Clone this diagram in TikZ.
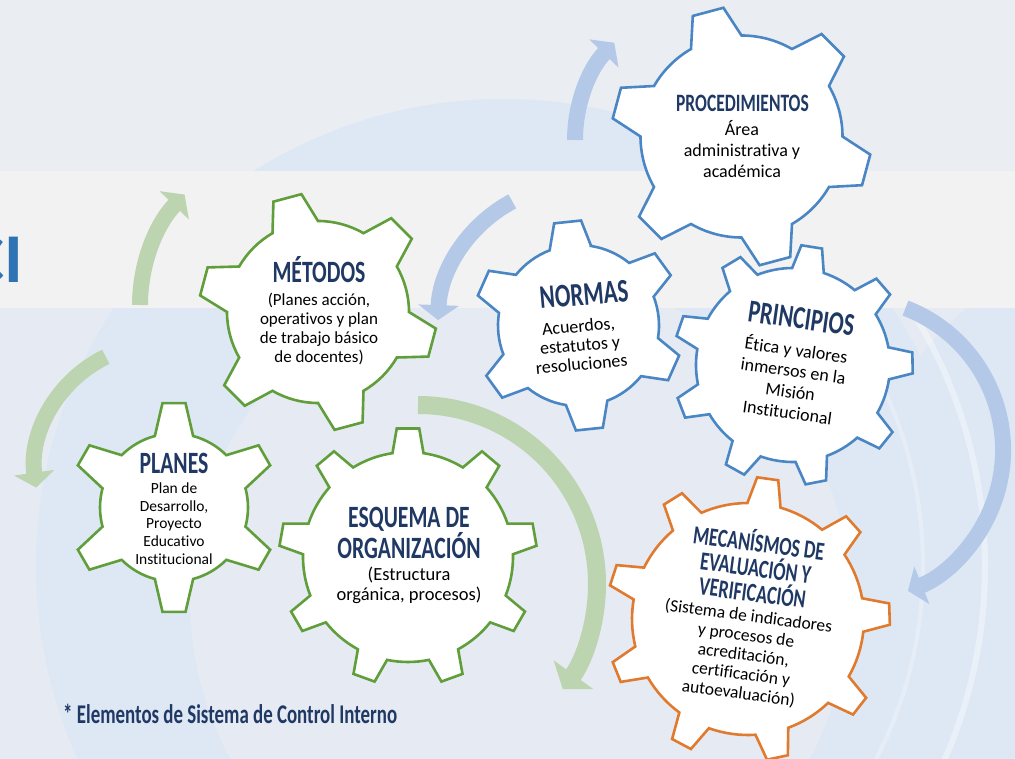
\documentclass[tikz,border=0pt]{standalone}
\usepackage{fontspec}
\setmainfont[Ligatures={NoCommon}]{Carlito}
\newfontfamily\headfont[FakeStretch=0.7,Ligatures={NoCommon}]{Carlito}
\usetikzlibrary{arrows.meta}

\definecolor{bgtop}{HTML}{EAEDF2}
\definecolor{bgbot}{HTML}{E6EAF2}
\definecolor{bgband}{HTML}{F2F2F2}
\definecolor{bgring}{HTML}{DEE8F4}
\definecolor{navyhead}{HTML}{1F3864}
\definecolor{gearGreen}{HTML}{5F9E3A}
\definecolor{gearBlue}{HTML}{4A86C4}
\definecolor{gearOrange}{HTML}{E07A2F}
\definecolor{arrGreen}{HTML}{BCD5B0}
\definecolor{arrBlue}{HTML}{B4C9E8}
\definecolor{ciBlue}{HTML}{2E74B5}
\definecolor{topNavy}{HTML}{1F3A68}

\tikzset{
 geargreen/.style={draw=gearGreen,fill=white,line width=2.6pt,line join=miter},
 gearblue/.style={draw=gearBlue,fill=white,line width=2.6pt,line join=miter},
 gearorange/.style={draw=gearOrange,fill=white,line width=2.6pt,line join=miter},
 cyclearrow/.style={line width=16pt,-{Triangle[width=40pt,length=15pt]}},
 bigcyclearrow/.style={line width=18pt,-{Triangle[width=48pt,length=18pt]}},
 garrow/.style={cyclearrow,draw=arrGreen},
 gbigarrow/.style={bigcyclearrow,draw=arrGreen},
 barrow/.style={cyclearrow,draw=arrBlue},
 headtext/.style={text=navyhead,inner sep=0pt,align=center},
 bodytext/.style={text=black,inner sep=0pt,align=center},
}

% cx, cy, teeth, Rin, Rout, rotation, tip half-angle, base half-angle, style
\newcommand\drawgear[9]{%
 \begin{scope}[shift={(#1,-#2)},rotate=#6]
  \draw[#9] ({-#8}:#4)
   \foreach \k in {1,...,#3}{
    -- ({360/#3*(\k-1)-#7}:#5) -- ({360/#3*(\k-1)+#7}:#5) -- ({360/#3*(\k-1)+#8}:#4)
    arc[start angle={360/#3*(\k-1)+#8}, end angle={360/#3*\k-#8}, radius=#4]
   } -- cycle;
 \end{scope}}

\begin{document}
\begin{tikzpicture}[x=1pt,y=1pt]
\useasboundingbox (0,0) rectangle (1015,-759);
% background
\fill[bgbot] (0,0) rectangle (1015,-759);
\fill[bgtop] (0,0) rectangle (1015,-171);
\fill[bgring] (1180,-560) circle[radius=330];
\fill[bgring] (503,-566) circle[radius=467];
\fill[bgbot] (520,-600) circle[radius=330];
\begin{scope}
 \clip (700,0) rectangle (1015,-759);
 \draw[white,opacity=0.35,line width=6pt] (503,-566) circle[radius=482];
 \draw[white,opacity=0.25,line width=4pt] (503,-566) circle[radius=420];
\end{scope}
\fill[bgband] (0,-171) rectangle (1015,-308);
% top-left swoosh
\fill[gray,opacity=0.12] (0,0) -- (230,0) -- (0,38) -- cycle;
\fill[gray,opacity=0.18] (0,0) -- (160,0) -- (0,26) -- cycle;
\fill[gray,opacity=0.25] (0,0) -- (110,0) -- (0,17) -- cycle;
\fill[topNavy] (0,0) -- (84,0) .. controls (50,5) .. (0,12) -- cycle;

% cycle arrows
\coordinate (a1s) at (140,-305);
\draw[garrow] (a1s) arc[start angle=180,end angle=136,radius=159];
\coordinate (a2s) at (105.8,-356.8);
\draw[garrow] (a2s) arc[start angle=116,end angle=188,radius=126];
\coordinate (a3s) at (418,-405);
\draw[gbigarrow] (a3s) arc[start angle=90,end angle=-36,radius=179];
\coordinate (a4s) at (575,-140);
\draw[barrow] (a4s) arc[start angle=180,end angle=136,radius=140];
\coordinate (a5s) at (512.3,-201.4);
\draw[barrow] (a5s) arc[start angle=118,end angle=178,radius=140];
\coordinate (a6s) at (905.5,-308.1);
\draw[barrow] (a6s) arc[start angle=69,end angle=-68,radius=152];

% gears
\drawgear{174}{507.5}{6}{74}{105}{90}{6.3}{15}{geargreen}
\drawgear{318}{312}{6}{91}{119}{105}{7}{15}{geargreen}
\drawgear{408}{557}{9}{105}{129}{90}{5}{8.5}{geargreen}
\drawgear{578.5}{325.5}{6}{80.5}{105}{96}{7.4}{15}{gearblue}
\drawgear{741.5}{136.5}{6}{101}{130}{105}{7}{15}{gearblue}
\drawgear{793}{365}{9}{97}{120}{1}{5}{9.5}{gearblue}
\drawgear{748}{619}{9}{116}{142}{2}{4.3}{8.3}{gearorange}

% texts
\node[headtext,anchor=base,font=\headfont\bfseries\fontsize{31}{29}\selectfont] (hPlanes) at (174,-473) {PLANES};
\node[bodytext,font=\fontsize{15.5}{17.7}\selectfont] (bPlanes) at (174,-523.5) {Plan de\\Desarrollo,\\Proyecto\\Educativo\\Institucional};

\node[headtext,anchor=base,font=\headfont\bfseries\fontsize{31}{29}\selectfont] (hMetodos) at (319,-283) {MÉTODOS};
\node[bodytext,font=\fontsize{17}{19}\selectfont] (bMetodos) at (319,-329) {(Planes acción,\\operativos y plan\\de trabajo básico\\de docentes)};

\node[headtext,font=\headfont\bfseries\fontsize{31}{29}\selectfont] (hEsquema) at (409,-533) {ESQUEMA DE\\ORGANIZACIÓN};
\node[bodytext,font=\fontsize{18.5}{20}\selectfont] (bEsquema) at (409,-585) {(Estructura\\orgánica, procesos)};

\node[headtext,anchor=base,rotate=5,font=\headfont\bfseries\fontsize{33}{30}\selectfont] (hNormas) at (585,-305) {NORMAS};
\node[bodytext,rotate=5,font=\fontsize{18}{19}\selectfont] (bNormas) at (580,-345) {Acuerdos,\\estatutos y\\resoluciones};

\node[headtext,anchor=base,font=\headfont\bfseries\fontsize{25}{25}\selectfont] (hProc) at (742.5,-111.5) {PROCEDIMIENTOS};
\node[bodytext,font=\fontsize{18}{21}\selectfont] (bProc) at (742,-149) {Área\\administrativa y\\académica};

\node[headtext,anchor=base,rotate=-8,font=\headfont\bfseries\fontsize{32}{30}\selectfont] (hPrin) at (800,-329) {PRINCIPIOS};
\node[bodytext,rotate=-8,font=\fontsize{18}{21}\selectfont] (bPrin) at (792,-380) {Ética y valores\\inmersos en la\\Misión\\Institucional};

\node[headtext,rotate=-7.5,font=\headfont\bfseries\fontsize{26}{25}\selectfont] (hMec) at (756,-566) {MECANÍSMOS DE\\EVALUACIÓN Y\\VERIFICACIÓN};
\node[bodytext,rotate=-7.5,font=\fontsize{17.5}{19.5}\selectfont] (bMec) at (743.5,-655) {(Sistema de indicadores\\y procesos de\\acreditación,\\certificación y\\autoevaluación)};

\node[headtext,anchor=base west,font=\headfont\bfseries\fontsize{27}{27}\selectfont] (caption) at (63,-723) {* Elementos de Sistema de Control Interno};

\node[text=ciBlue,anchor=base east,inner sep=0pt,font=\bfseries\fontsize{70}{70}\selectfont] (ci) at (23,-283) {CI};
\end{tikzpicture}
\end{document}
